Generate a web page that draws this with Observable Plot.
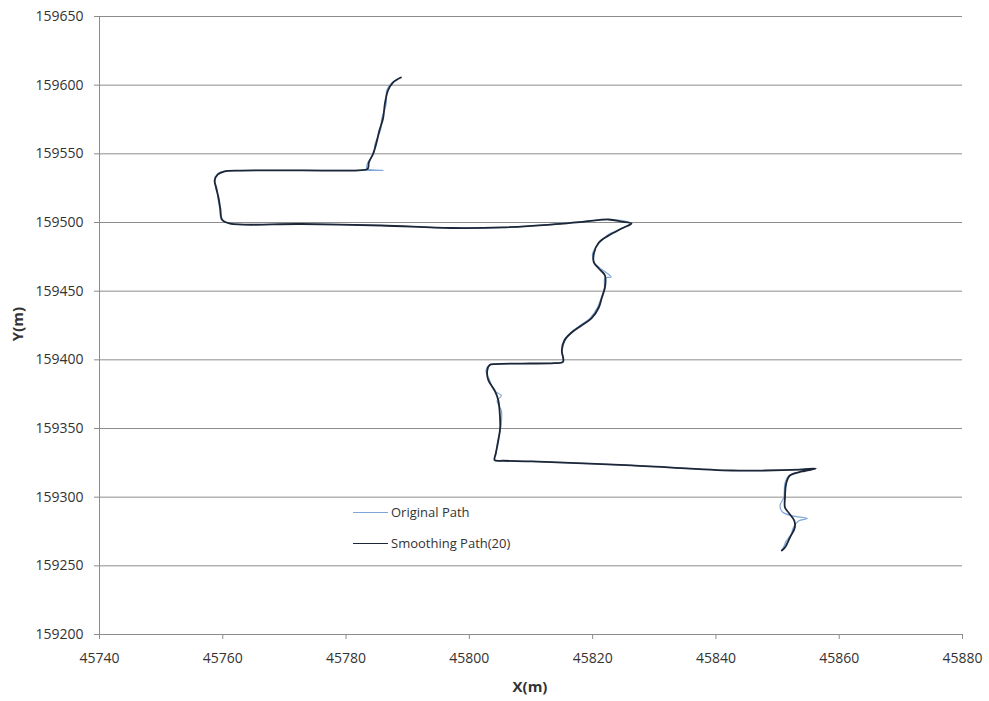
<!DOCTYPE html>
<html><head><meta charset="utf-8">
<script src="https://cdn.jsdelivr.net/npm/d3@7"></script>
<script src="https://cdn.jsdelivr.net/npm/@observablehq/plot@0.6"></script>
<style>
body{margin:0;background:#fff;font-family:"Open Sans",sans-serif;}
#wrap{position:relative;width:989px;height:701px;}
.leg{position:absolute;left:353px;font-size:13px;color:#333;display:flex;align-items:center;height:18px;}
.leg span.l{display:inline-block;width:35px;margin-right:3px;}
</style></head>
<body><div id="wrap"></div>
<script>
const xTicks = [45740,45760,45780,45800,45820,45840,45860,45880];
const yTicks = [159200,159250,159300,159350,159400,159450,159500,159550,159600,159650];
const seriesNames = ["Original Path","Smoothing Path(20)"];

const smoothX = [45788.9,45787.6,45786.8,45786.3,45786.0,45785.4,45784.9,45784.4,45783.7,45783.5,
45782.0,45772.7,45762.9,45760.2,45759.2,45758.7,45758.9,45759.3,45759.6,45759.9,45761.2,45772.7,
45785.7,45797.1,45805.2,45813.3,45818.7,45822.6,45824.7,45826.3,45824.7,45822.6,
45821.0,45820.2,45820.2,45821.0,45822.0,45822.0,45821.5,45821.0,45819.8,45818.2,
45816.6,45815.4,45815.0,45815.2,45813.8,45808.5,45804.2,45803.3,45802.9,45803.1,45804.1,45804.7,
45804.9,45805.0,45804.7,45804.3,45804.1,45805.6,45810.1,45826.3,45842.6,45848.0,45853.5,45856.2,45854.0,
45852.0,45851.4,45851.2,45851.2,45851.9,45852.7,45852.8,45852.0,45851.2,45850.7];
const smoothY = [159605.6,159601.9,159596.1,159586.6,159575.7,159567.0,159557.5,159550.2,159543.7,159539.0,
159538.0,159537.9,159537.8,159537.1,159535.0,159530.6,159525.5,159518.2,159510.0,159502.0,159499.2,159498.9,
159497.8,159496.0,159496.4,159498.5,159500.7,159502.2,159500.7,159499.3,159495.6,159490.5,
159485.4,159477.4,159470.9,159466.5,159461.4,159452.7,159445.4,159438.1,159430.1,159425.0,
159419.9,159414.1,159406.8,159398.6,159397.6,159397.3,159396.9,159396.2,159392.2,159384.9,159377.7,159370.4,
159363.1,159350.7,159341.3,159332.0,159327.0,159326.5,159326.0,159323.1,159319.4,159319.4,159320.1,159320.8,159318.7,
159315.8,159310.0,159299.8,159292.5,159288.1,159283.0,159277.9,159270.6,159263.3,159261.2];

const origX = [45788.7,45787.4,45786.6,45786.5,45785.8,45785.6,45784.7,45784.5,45783.5,45783.4,
45786.0,45783.2,45772.7,45762.9,45760.1,45759.1,45758.6,45759.0,45759.2,45759.5,45759.8,45761.2,45772.7,
45785.7,45797.1,45805.2,45813.3,45818.7,45822.6,45825.0,45826.2,45824.5,45822.4,
45821.1,45820.0,45820.3,45821.2,45823.0,45822.0,45821.9,45821.4,45820.8,45819.6,45818.0,
45816.4,45815.6,45815.0,45815.2,45813.8,45808.5,45804.2,45803.3,45802.7,45803.3,45804.0,45805.2,45804.5,
45805.2,45805.1,45804.6,45804.3,45804.1,45805.6,45810.1,45826.3,45842.6,45848.0,45853.5,45856.2,45853.8,
45851.8,45851.2,45851.0,45850.4,45850.8,45852.4,45854.8,45853.4,45852.6,45852.2,45851.4,45851.0,45850.6];
const origY = [159605.4,159601.6,159596.4,159586.2,159575.9,159567.4,159557.2,159550.5,159543.4,159539.2,
159537.9,159538.0,159537.9,159537.8,159537.2,159535.2,159530.4,159525.8,159518.0,159510.2,159502.0,159499.2,159498.9,
159497.8,159496.0,159496.3,159498.6,159500.9,159502.0,159501.3,159499.4,159495.4,159490.8,
159485.1,159477.6,159470.6,159466.8,159460.2,159459.6,159452.5,159445.2,159438.3,159430.4,159425.2,
159419.7,159414.4,159406.6,159398.6,159397.6,159397.3,159396.9,159396.2,159392.0,159385.2,159377.5,159374.0,159370.2,
159362.8,159350.9,159341.0,159332.0,159327.0,159326.5,159326.0,159323.1,159319.4,159319.4,159320.1,159320.8,159318.6,
159315.5,159310.2,159299.6,159294.0,159289.2,159286.4,159284.5,159282.6,159278.2,159273.0,159268.0,159263.8,159261.0];

const original = origX.map((x,i)=>({x, y: origY[i]}));
const smooth = smoothX.map((x,i)=>({x, y: smoothY[i]}));
const fmt = d => String(d);

const chart = Plot.plot({
  width: 989, height: 701,
  marginLeft: 99, marginRight: 27, marginTop: 16, marginBottom: 67,
  style: {fontFamily: '"Open Sans", sans-serif', fontSize: "14px", color: "#333", background: "#fff"},
  x: {domain: [45740, 45880], label: null},
  y: {domain: [159200, 159650], label: null},
  marks: [
    Plot.gridY(yTicks.filter(d => d > 159200), {stroke: "#8c8c8c", strokeOpacity: 1, strokeWidth: 1}),
    Plot.axisX({ticks: xTicks, tickFormat: fmt, tickSize: 5, tickPadding: 14, stroke: "#8c8c8c", fill: "#333", fontSize: 14, label: null}),
    Plot.axisY({ticks: yTicks, tickFormat: fmt, tickSize: 5, tickPadding: 11, stroke: "#8c8c8c", fill: "#333", fontSize: 14, label: null}),
    Plot.ruleX([45740], {stroke: "#8c8c8c"}),
    Plot.ruleY([159200], {stroke: "#8c8c8c"}),
    Plot.line(original, {x: "x", y: "y", stroke: "#7ea7d8", strokeWidth: 1.2, curve: "catmull-rom"}),
    Plot.line(smooth, {x: "x", y: "y", stroke: "#1c2636", strokeWidth: 1.8, curve: "catmull-rom"})
  ]
});
const wrap = document.getElementById("wrap");
wrap.appendChild(chart);

const xl = document.createElement("div");
xl.textContent = "X(m)";
xl.style.cssText = "position:absolute;left:480px;width:100px;text-align:center;top:676px;font-weight:bold;font-size:15px;color:#333;";
wrap.appendChild(xl);
const yl = document.createElement("div");
yl.textContent = "Y(m)";
yl.style.cssText = "position:absolute;left:-33px;width:100px;text-align:center;top:314px;transform:rotate(-90deg);font-weight:bold;font-size:15px;color:#333;";
wrap.appendChild(yl);

const legColors = ["#7ea7d8","#1c2636"];
const legW = [1.2, 1.8];
const legTop = [503, 534];
seriesNames.forEach((n,i) => {
  const d = document.createElement("div");
  d.className = "leg";
  d.style.top = legTop[i] + "px";
  d.innerHTML = `<span class="l" style="border-top:${legW[i]}px solid ${legColors[i]}"></span><span>${n}</span>`;
  wrap.appendChild(d);
});
</script>
</body></html>
